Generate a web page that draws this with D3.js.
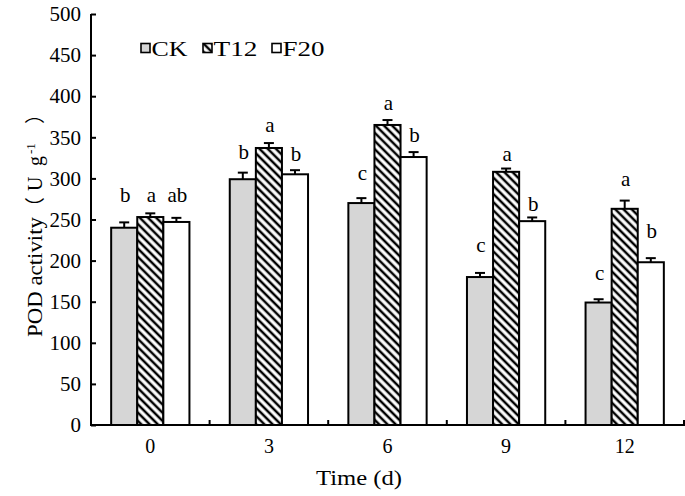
<!DOCTYPE html>
<html>
<head>
<meta charset="utf-8">
<script src="https://cdn.jsdelivr.net/npm/d3@7"></script>
<style>
  html, body { margin: 0; padding: 0; background: #fff; }
  svg { display: block; font-family: "Liberation Serif", "Times New Roman", serif; }
</style>
</head>
<body>
<svg id="chart" width="685" height="496"></svg>
<script>
// ---- data ----
const categories = ["0", "3", "6", "9", "12"];
const seriesNames = ["CK", "T12", "F20"];
const ckValues  = [240, 299, 270, 180, 149];
const t12Values = [253, 337, 365, 308, 263];
const f20Values = [247, 305, 326, 248, 198];
const ckErr  = [6.5, 8, 6, 5, 4];
const t12Err = [4.5, 6, 6, 4, 10];
const f20Err = [5, 5, 6, 4.5, 5];
const ckLetters  = ["b", "b", "c", "c", "c"];
const t12Letters = ["a", "a", "a", "a", "a"];
const f20Letters = ["ab", "b", "b", "b", "b"];
// height (in data units) of each letter's baseline
const ckLetterAt  = [271, 323, 298, 211, 176];
const t12LetterAt = [271, 357, 383, 321, 291];
const f20LetterAt = [271, 321, 344, 260, 227];
const yTicks = [0, 50, 100, 150, 200, 250, 300, 350, 400, 450, 500];
const yTitleMain = "POD activity";
const yTitleUnitParts = ["（", "U", "g", "-1", "）"];
const xTitle = "Time (d)";

const seriesValues = [ckValues, t12Values, f20Values];
const seriesErr = [ckErr, t12Err, f20Err];
const seriesLetters = [ckLetters, t12Letters, f20Letters];
const seriesLetterAt = [ckLetterAt, t12LetterAt, f20LetterAt];

const rows = [];
categories.forEach((c, i) => {
  seriesNames.forEach((s, j) => {
    rows.push({ cat: c, series: s, value: seriesValues[j][i], err: seriesErr[j][i],
                letter: seriesLetters[j][i], letterAt: seriesLetterAt[j][i] });
  });
});

// ---- layout ----
const svg = d3.select("#chart");
const pLeft = 91, pRight = 684, pTop = 14, pBottom = 425;
const font = 20;

const x = d3.scaleBand().domain(categories).range([pLeft, pRight]).padding(0);
const bw = x.bandwidth();
const groupPad = bw * 0.17;
const x1 = d3.scaleBand().domain(seriesNames).range([groupPad, bw - groupPad]).padding(0);
const y = d3.scaleLinear().domain([0, 500]).range([pBottom, pTop]);

// hatch pattern
const defs = svg.append("defs");
const hs = 5.8;
const pat = defs.append("pattern")
  .attr("id", "hatch")
  .attr("patternUnits", "userSpaceOnUse")
  .attr("width", hs).attr("height", hs)
  .attr("patternTransform", "rotate(45)");
pat.append("rect").attr("width", hs).attr("height", hs).attr("fill", "#fff");
pat.append("line").attr("x1", 0).attr("y1", hs / 2).attr("x2", hs).attr("y2", hs / 2)
  .attr("stroke", "#000").attr("stroke-width", 2.5);

const fills = { CK: "#d6d6d6", T12: "url(#hatch)", F20: "#ffffff" };

// bars
const g = svg.append("g");
g.selectAll("rect.bar").data(rows).join("rect")
  .attr("class", "bar")
  .attr("x", d => x(d.cat) + x1(d.series))
  .attr("y", d => y(d.value))
  .attr("width", x1.bandwidth())
  .attr("height", d => y(0) - y(d.value))
  .attr("fill", d => fills[d.series])
  .attr("stroke", "#000")
  .attr("stroke-width", 2);

// error bars (upper)
const cap = 5;
const eb = g.selectAll("g.err").data(rows).join("g").attr("class", "err");
eb.append("line")
  .attr("x1", d => x(d.cat) + x1(d.series) + x1.bandwidth() / 2)
  .attr("x2", d => x(d.cat) + x1(d.series) + x1.bandwidth() / 2)
  .attr("y1", d => y(d.value))
  .attr("y2", d => y(d.value + d.err))
  .attr("stroke", "#000").attr("stroke-width", 2);
eb.append("line")
  .attr("x1", d => x(d.cat) + x1(d.series) + x1.bandwidth() / 2 - cap)
  .attr("x2", d => x(d.cat) + x1(d.series) + x1.bandwidth() / 2 + cap)
  .attr("y1", d => y(d.value + d.err))
  .attr("y2", d => y(d.value + d.err))
  .attr("stroke", "#000").attr("stroke-width", 2);

// significance letters
g.selectAll("text.letter").data(rows).join("text")
  .attr("class", "letter")
  .attr("x", d => x(d.cat) + x1(d.series) + x1.bandwidth() / 2 + 1)
  .attr("y", d => y(d.letterAt))
  .attr("text-anchor", "middle")
  .attr("font-size", 21)
  .text(d => d.letter);

// y axis
const yAxis = d3.axisLeft(y).tickValues(yTicks).tickSize(-5).tickPadding(10);
const ya = svg.append("g").attr("transform", `translate(${pLeft},0)`).call(yAxis);
ya.select(".domain").attr("stroke-width", 2).attr("d", `M0,${pBottom}V${pTop}`);
ya.selectAll(".tick line").attr("stroke-width", 2);
ya.selectAll(".tick text").attr("font-size", 21).attr("font-family", "Liberation Serif").attr("fill", "#000");

// x axis
const xa = svg.append("g").attr("transform", `translate(0,${pBottom})`);
xa.append("line").attr("x1", pLeft - 1).attr("x2", pRight + 1).attr("y1", 0).attr("y2", 0)
  .attr("stroke", "#000").attr("stroke-width", 2);
const bounds = categories.map(c => x(c) + bw);
xa.selectAll("line.tk").data(bounds).join("line")
  .attr("class", "tk")
  .attr("x1", d => d).attr("x2", d => d)
  .attr("y1", 0).attr("y2", -5)
  .attr("stroke", "#000").attr("stroke-width", 2);
xa.selectAll("text.lbl").data(categories).join("text")
  .attr("class", "lbl")
  .attr("x", d => x(d) + bw / 2)
  .attr("y", 27.5)
  .attr("text-anchor", "middle")
  .attr("font-size", font)
  .text(d => d);

// axis titles
svg.append("text")
  .attr("x", 359).attr("y", 485)
  .attr("text-anchor", "middle")
  .attr("font-size", 21)
  .attr("textLength", 86)
  .attr("lengthAdjust", "spacingAndGlyphs")
  .text(xTitle);

// y title: rotated, start at the bottom (page y 337) going up
const yt = svg.append("text")
  .attr("transform", "translate(42,0) rotate(-90)")
  .attr("font-size", 20);
yt.append("tspan").attr("x", -337).attr("textLength", 120)
  .attr("lengthAdjust", "spacingAndGlyphs").text(yTitleMain);
yt.append("tspan").attr("x", -217)
  .attr("font-family", "Noto Sans CJK SC").text(yTitleUnitParts[0]);
yt.append("tspan").attr("x", -191).text(yTitleUnitParts[1]);
yt.append("tspan").attr("x", -166).text(yTitleUnitParts[2]);
yt.append("tspan").attr("x", -154).attr("dy", -7).attr("font-size", 13).text(yTitleUnitParts[3]);
yt.append("tspan").attr("x", -124).attr("dy", 7)
  .attr("font-family", "Noto Sans CJK SC").text(yTitleUnitParts[4]);

// legend
const legX = [141, 203, 272];
const legLen = [36, 44, 42];
const leg = svg.append("g");
seriesNames.forEach((s, j) => {
  leg.append("rect")
    .attr("x", legX[j]).attr("y", 43.5)
    .attr("width", 9).attr("height", 9)
    .attr("fill", fills[s])
    .attr("stroke", "#000").attr("stroke-width", 1.6);
  leg.append("text")
    .attr("x", legX[j] + 10.5).attr("y", 55.5)
    .attr("font-size", 20)
    .attr("textLength", legLen[j])
    .attr("lengthAdjust", "spacingAndGlyphs")
    .text(s);
});
</script>
</body>
</html>
